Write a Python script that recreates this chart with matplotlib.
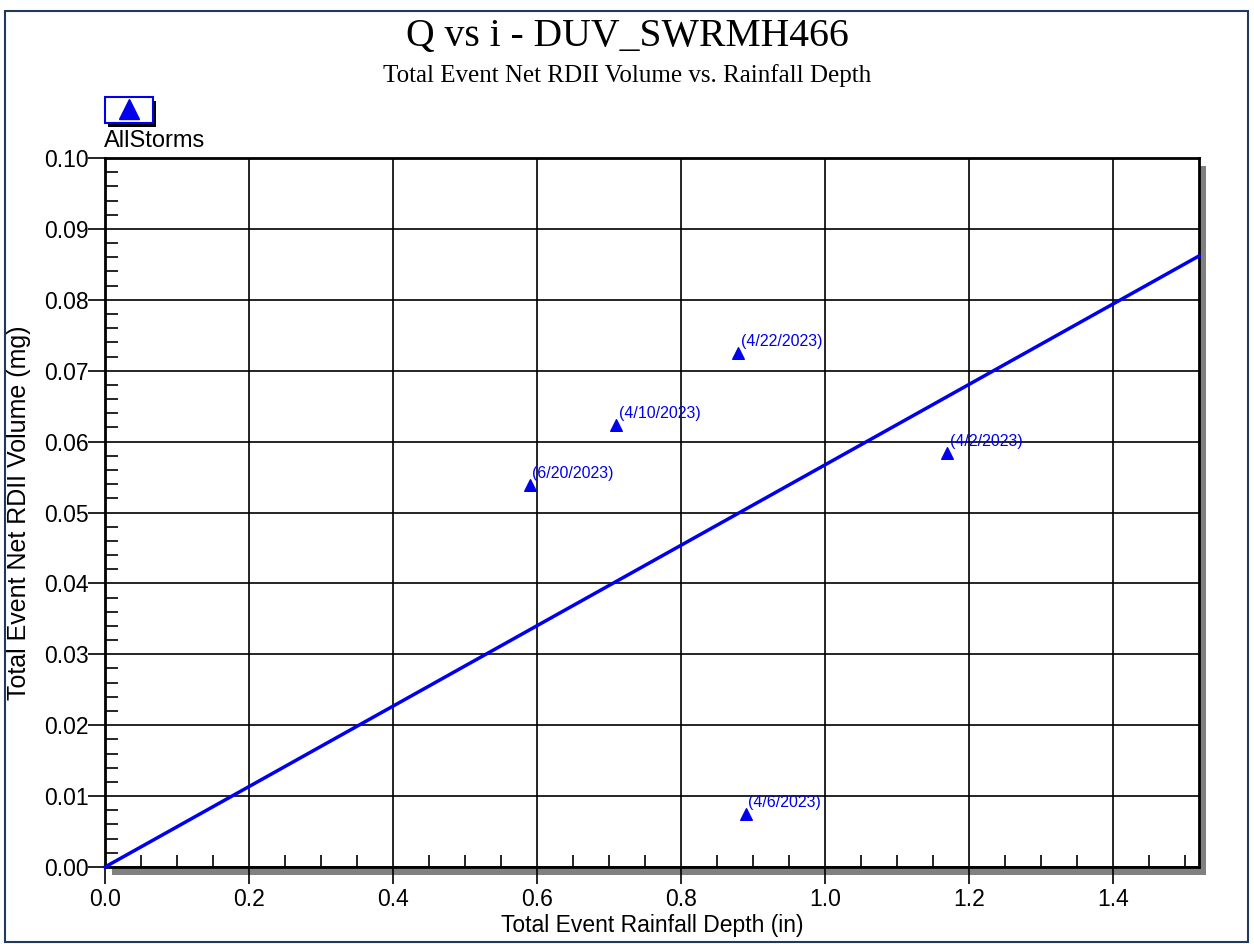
import numpy as np
import matplotlib
matplotlib.use("Agg")
import matplotlib.pyplot as plt
from matplotlib.patches import Rectangle
from matplotlib.ticker import MultipleLocator

# data
depth = [0.59, 0.71, 0.88, 1.17, 0.89]
volume = [0.0539, 0.0623, 0.0725, 0.0584, 0.0075]
storms = ["(6/20/2023)", "(4/10/2023)", "(4/22/2023)", "(4/2/2023)", "(4/6/2023)"]
fit_slope = 0.0567
x_max = 1.52

W, H = 1254, 944
fig = plt.figure(figsize=(W / 100, H / 100), dpi=100)
sans = ["Liberation Sans", "DejaVu Sans"]
serif = ["Liberation Serif", "DejaVu Serif"]

# outer border
fig.patches.append(Rectangle((5 / W, 1 - 942 / H), 1243 / W, 931 / H, transform=fig.transFigure,
                             fill=False, edgecolor="#1f3a5a", linewidth=1.5, zorder=-2))

# axes position in pixels
l, r, t, b = 105, 1199, 158, 867
ax = fig.add_axes([l / W, 1 - b / H, (r - l) / W, (b - t) / H])
ax.set_zorder(1)

# shadow behind the plot area
fig.patches.append(Rectangle(((l + 7) / W, 1 - (b + 8) / H), (r - l) / W, (b - t) / H,
                             transform=fig.transFigure, facecolor="#808080", edgecolor="none", zorder=-1))
ax.set_facecolor("white")

ax.set_xlim(0, x_max)
ax.set_ylim(0, 0.1)
ax.xaxis.set_major_locator(MultipleLocator(0.2))
ax.xaxis.set_minor_locator(MultipleLocator(0.05))
ax.yaxis.set_major_locator(MultipleLocator(0.01))
ax.yaxis.set_minor_locator(MultipleLocator(0.002))
ax.xaxis.set_major_formatter(plt.FuncFormatter(lambda v, p: f"{v:.1f}"))
ax.yaxis.set_major_formatter(plt.FuncFormatter(lambda v, p: f"{v:.2f}"))
ax.grid(True, which="major", color="black", linewidth=1.2)
ax.tick_params(which="major", direction="out", length=12, width=1.2, labelsize=16.5, pad=0)
ax.tick_params(axis="x", which="major", pad=3)
ax.tick_params(which="minor", direction="in", length=9, width=1.2)
for s in ax.spines.values():
    s.set_linewidth(2)
for lab in ax.get_xticklabels() + ax.get_yticklabels():
    lab.set_family(sans)

xs = np.array([0, x_max])
ax.plot(xs, fit_slope * xs, color="#0000ee", linewidth=2.5, zorder=3, clip_on=False)
ax.scatter(depth, volume, marker="^", s=70, color="#0000ee", zorder=4)
for x, y, s in zip(depth, volume, storms):
    ax.annotate(s, (x, y), xytext=(2, 5), textcoords="offset points", color="#0000ee",
                fontsize=11.5, family=sans, zorder=5)

ax.set_xlabel("Total Event Rainfall Depth (in)", fontsize=16.5, family=sans)
ax.set_ylabel("Total Event Net RDII Volume (mg)", fontsize=18, family=sans)
ax.xaxis.set_label_coords(0.5, (b - 914) / (b - t))
ax.yaxis.set_label_coords((31 - l) / (r - l), 0.5)

fig.text(0.5, 1 - 37 / H, "Q vs i - DUV_SWRMH466", ha="center", va="center", fontsize=28.5, family=serif)
fig.text(0.5, 1 - 76 / H, "Total Event Net RDII Volume vs. Rainfall Depth", ha="center", va="center",
         fontsize=18, family=serif)

# legend box
fig.patches.append(Rectangle((108 / W, 1 - 127 / H), 48 / W, 26 / H, transform=fig.transFigure,
                             facecolor="black", edgecolor="none"))
fig.patches.append(Rectangle((105 / W, 1 - 123 / H), 48 / W, 26 / H, transform=fig.transFigure,
                             facecolor="white", edgecolor="#0000ee", linewidth=1.5))
fig.lines.append(plt.Line2D([129 / W], [1 - 109 / H], transform=fig.transFigure, marker="^",
                            markersize=15, color="#0000ee", linestyle="none"))
fig.text(104 / W, 1 - 141 / H, "AllStorms", ha="left", va="center", fontsize=17, family=sans)

fig.savefig("out.png", dpi=100)
